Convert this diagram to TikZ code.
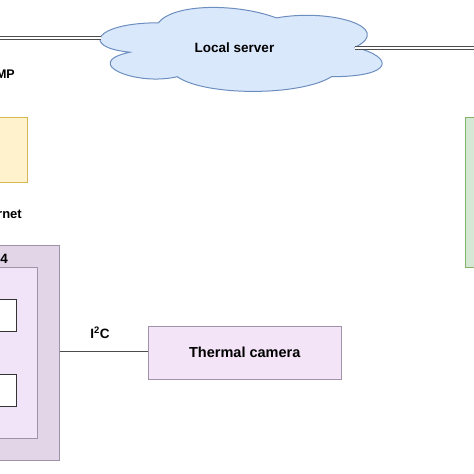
\documentclass[tikz,border=0pt]{standalone}
\usepackage{fontspec}
\setmainfont{Liberation Sans}
\definecolor{cloudfill}{HTML}{DAE8FC}
\definecolor{cloudline}{HTML}{6C8EBF}
\definecolor{yelfill}{HTML}{FFF2CC}
\definecolor{yelline}{HTML}{D6B656}
\definecolor{grnfill}{HTML}{D5E8D4}
\definecolor{grnline}{HTML}{82B366}
\definecolor{purfill}{HTML}{E1D5E7}
\definecolor{purin}{HTML}{F1E4F8}
\definecolor{camfill}{HTML}{F3E5F7}
\definecolor{purline}{HTML}{9E93A8}
\definecolor{linkline}{HTML}{4D4D4D}
\tikzset{
  box/.style={draw, line width=1pt, inner sep=0pt, rectangle},
  link/.style={draw=linkline, line width=0.9pt, double=white, double distance=2pt},
  lbl/.style={font=\bfseries\fontsize{13.5}{16}\selectfont, inner sep=0pt},
}
\begin{document}
\begin{tikzpicture}[x=1pt,y=-1pt]
\useasboundingbox (0,0) rectangle (474,474);
% cloud
\path[draw=cloudline, fill=cloudfill, line width=1pt]
  (158.25,22.8) .. controls (95.25,22.8) and (79.5,47.3) .. (129.9,52.2)
  .. controls (79.5,63.0) and (136.2,86.5) .. (177.15,76.7)
  .. controls (205.5,96.3) and (300,96.3) .. (331.5,76.7)
  .. controls (394.5,76.7) and (394.5,57.1) .. (355.1,47.3)
  .. controls (394.5,27.7) and (331.5,8.1) .. (276.4,17.9)
  .. controls (237,3.2) and (174,3.2) .. (158.25,22.8) -- cycle;
\node[lbl] (cloud) at (234.5,48) {Local server};
\coordinate (cloudW) at (100.5,38);
\coordinate (cloudE) at (355.1,48);
\coordinate (farW) at (-5,38);
\coordinate (farE) at (480,48);
% left-hand side boxes
\node[box, draw=yelline, fill=yelfill, minimum width=32, minimum height=65] (yel) at (11,149.5) {};
\node[box, draw=grnline, fill=grnfill, minimum width=15, minimum height=150.4] (grn) at (472.5,192.5) {};
\node[box, draw=purline, fill=purfill, minimum width=64, minimum height=215] (outer) at (27,352.5) {};
\node[box, draw=purline, fill=purin, minimum width=42, minimum height=171] (inner) at (16,352.5) {};
\node[box, draw=black!80, fill=white, minimum width=21, minimum height=32] (w1) at (5.5,315) {};
\node[box, draw=black!80, fill=white, minimum width=21, minimum height=32] (w2) at (5.5,390) {};
\node[box, draw=purline, fill=camfill, minimum width=192.5, minimum height=53,
      font=\bfseries\fontsize{14.5}{17}\selectfont] (cam) at (244.75,352.5) {Thermal camera};
% labels
\node[lbl, font=\bfseries\fontsize{12.5}{15}\selectfont, anchor=base east] (snmp) at (15,78) {MP};
\node[lbl, font=\bfseries\fontsize{13}{15}\selectfont, anchor=base east] (eth) at (22,218) {rnet};
\node[lbl, anchor=base east] (rpi) at (8,263) {4};
\node[lbl, anchor=base] (i2c) at (100,338.7) {I\textsuperscript{2}C};
% connectors
\draw[link] (farW) -- (cloudW);
\draw[link] (cloudE) -- (farE);
\draw[link] (outer.east) -- (cam.west);
\end{tikzpicture}
\end{document}
